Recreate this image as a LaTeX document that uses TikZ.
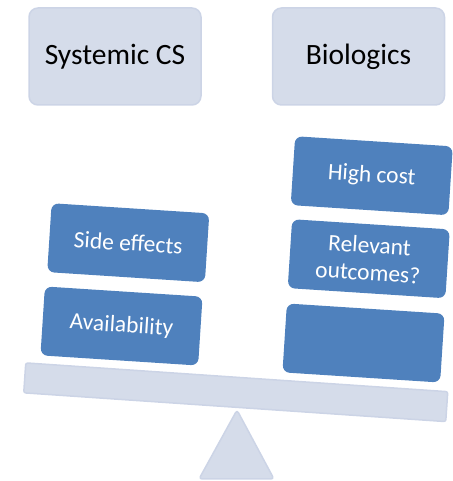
\documentclass[tikz,border=0pt]{standalone}
\usepackage{fontspec}
\setmainfont{Carlito}
\definecolor{paleblue}{HTML}{D5DCEA}
\definecolor{paleedge}{HTML}{CCD4E6}
\definecolor{tileblue}{HTML}{4F81BD}
\begin{document}
\begin{tikzpicture}[x=1pt,y=1pt,
  header/.style={draw=paleedge, line width=1.5pt, fill=paleblue, rounded corners=9pt,
    minimum width=172pt, minimum height=97pt, inner sep=0pt,
    font=\fontsize{29.5}{34}\selectfont, text=black},
  tile/.style={fill=tileblue, rounded corners=7pt, rotate=-3.7,
    minimum width=158pt, minimum height=69pt, inner sep=0pt, align=center,
    font=\fontsize{23.5}{27.5}\selectfont, text=white},
  stand/.style={draw=paleedge, line width=1.5pt, fill=paleblue, line join=round}
]
\useasboundingbox (0,0) rectangle (452,481);

% headings
\node[header] (sys) at (115,424.5) {Systemic CS};
\node[header] (bio) at (358.5,424.5) {Biologics};

% pivot and tilted beam
\draw[stand, rounded corners=3pt] (199,2) -- (237,71) -- (274,2) -- cycle;
\node[stand, rounded corners=2pt, rotate=-3.9, minimum width=423pt,
  minimum height=30pt, inner sep=0pt] (beam) at (235.75,88.75) {};

% left pan
\node[tile] (avail) at (121.5,155) {Availability};
\node[tile] (side) at (128.25,238.25) {Side effects};

% right pan
\node[tile] (blank) at (363.5,138) {};
\node[tile] (outc) at (368.75,222.25) {Relevant\\outcomes?};
\node[tile] (cost) at (371.75,305.25) {High cost};
\end{tikzpicture}
\end{document}
